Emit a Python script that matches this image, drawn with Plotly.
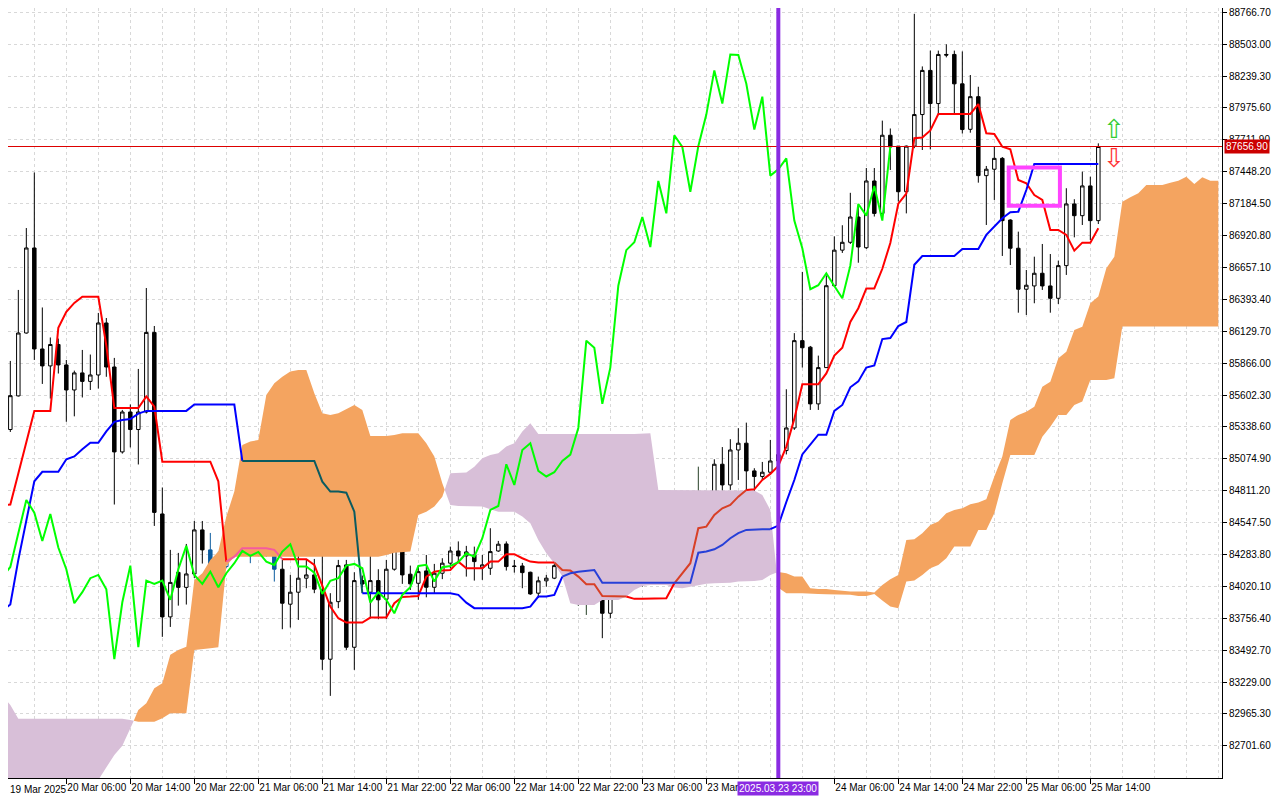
import plotly.graph_objects as go

# BTCUSD H1, bar 0 = 19 Mar 2025 22:00, one bar per hour
opens = [85381, 85317, 85595, 86115, 86818, 85983, 85843, 86020, 85851, 85644,
         85785, 85715, 85768, 86198, 85834, 85132, 85462, 85317, 85462, 86120,
         84619, 83768, 84136, 84012, 84123, 84487, 84322, 84099, 84184, 84459,
         84735, 84638, 84404, 84619, 84440, 84162, 83873, 83972, 84088, 84115,
         83991, 83418, 83894, 84198, 83517, 84068, 83972, 84068, 83914, 84162,
         84355, 84121, 84046, 84148, 84013, 84129, 84212, 84313, 84272, 84280,
         84173, 84170, 84313, 84371, 84189, 84189, 84137, 83964, 84066, 84088,
         84198, 84206, 84134, 83886, 83972, 83909, 83798, 83956, 84013, 84194,
         84189, 84051, 84181, 84184, 84220, 84294, 84266, 84418, 84652, 84685,
         85030, 84859, 85148, 85204, 84975, 84929, 84964, 85057, 85143, 85330,
         86052, 85998, 85529, 85829, 86506, 86800, 86865, 87074, 86820, 87372,
         87104, 87750, 87660, 87283, 87660, 87921, 88286, 88012, 88418, 88418,
         88175, 87799, 88069, 87416, 87469, 87559, 87049, 86816, 86477, 86504,
         86609, 86504, 86402, 86672, 87182, 87085, 87331, 87044]
highs = [85450, 85884, 86471, 86983, 87442, 86326, 86078, 86069, 85892, 85804,
         85975, 85937, 86281, 86239, 85909, 85479, 85524, 85818, 86487, 86173,
         84838, 84322, 84297, 84371, 84561, 84561, 84462, 84308, 84510, 84751,
         84804, 84688, 84762, 84630, 84454, 84239, 84115, 84308, 84239, 84247,
         84322, 83964, 84239, 84239, 84137, 84110, 84390, 84162, 84239, 84542,
         84377, 84192, 84183, 84280, 84206, 84253, 84349, 84392, 84355, 84349,
         84280, 84501, 84396, 84392, 84239, 84214, 84142, 84101, 84115, 84206,
         84280, 84225, 84156, 84005, 83977, 83914, 84005, 84074, 84239, 84204,
         84195, 84198, 84245, 84247, 84322, 84308, 84465, 85010, 84782, 85071,
         85172, 85237, 85328, 85374, 84997, 85049, 85231, 85200, 85650, 86114,
         86620, 86008, 85928, 86591, 86914, 87006, 87274, 87169, 87479, 87479,
         87871, 87806, 87661, 87665, 88754, 88319, 88450, 88450, 88502, 88450,
         88443, 88248, 88151, 87496, 87655, 87570, 87055, 86953, 86636, 86746,
         86851, 86768, 86713, 87312, 87221, 87449, 87407, 87683]
lows = [85290, 85297, 85590, 86110, 85892, 85694, 85573, 85780, 85381, 85426,
        85582, 85644, 85656, 85753, 84697, 85118, 85169, 85028, 85450, 84520,
        83603, 83685, 83861, 83870, 84090, 84209, 83933, 83867, 84173, 84338,
        84465, 84212, 84349, 84266, 84060, 83666, 83680, 83743, 84005, 83964,
        83330, 83115, 83840, 83495, 83330, 84010, 83757, 83749, 83749, 84150,
        84041, 83991, 83909, 83930, 83964, 84080, 84170, 84212, 84101, 84068,
        84074, 84115, 84305, 84151, 84134, 84005, 83950, 83925, 84018, 84080,
        84156, 84115, 83859, 83784, 83895, 83592, 83757, 83922, 83977, 84051,
        84018, 84045, 84142, 84165, 84206, 84264, 84264, 84404, 84597, 84505,
        84812, 84818, 84900, 84818, 84749, 84900, 84942, 84980, 85111, 85314,
        85829, 85479, 85479, 85826, 86499, 86777, 86851, 86696, 86810, 87078,
        87091, 87463, 87202, 87104, 87643, 87628, 87633, 87921, 88394, 87921,
        87764, 87771, 87358, 87008, 87215, 86752, 86677, 86283, 86264, 86361,
        86471, 86283, 86355, 86595, 86906, 87008, 86884, 87016]
closes = [85317, 85597, 86115, 86818, 85983, 85843, 86020, 85851, 85644, 85785,
          85715, 85768, 86198, 85834, 85132, 85462, 85317, 85462, 86120, 84632,
          83768, 84053, 84012, 84123, 84487, 84322, 84099, 84181, 84459, 84735,
          84630, 84396, 84619, 84341, 84162, 83881, 83972, 84088, 84115, 83997,
          83418, 83889, 84192, 83517, 84068, 84040, 84068, 83909, 84162, 84355,
          84115, 84041, 84142, 84013, 84129, 84212, 84313, 84272, 84305, 84225,
          84198, 84308, 84369, 84184, 84185, 84134, 83958, 84066, 84088, 84192,
          84206, 84170, 83886, 83972, 83909, 83798, 83950, 84013, 84189, 84198,
          84060, 84179, 84189, 84220, 84294, 84266, 84418, 84652, 84685, 85030,
          84859, 85148, 85204, 84975, 84929, 84964, 85057, 85110, 85330, 86052,
          85993, 85529, 85829, 86506, 86800, 86865, 87074, 86826, 87372, 87104,
          87750, 87653, 87283, 87660, 87921, 88286, 88012, 88418, 88413, 88175,
          87797, 88069, 87416, 87469, 87559, 87044, 86816, 86477, 86510, 86609,
          86504, 86402, 86672, 87182, 87085, 87331, 87044, 87656.9]

# Ichimoku lines as drawn on the chart
tenkan = [84688, 84697, 84953, 85214, 85471, 85471, 85471, 86158, 86291, 86364,
          86415, 86415, 86415, 86010, 85494, 85494, 85494, 85494, 85591, 85506,
          85051, 85051, 85051, 85051, 85051, 85051, 85051, 84889, 84225, 84266,
          84336, 84336, 84336, 84336, 84322, 84245, 84245, 84245, 84245, 84198,
          84018, 83853, 83757, 83721, 83721, 83721, 83762, 83762, 83762, 83881,
          83933, 83936, 83941, 84101, 84142, 84151, 84156, 84225, 84170, 84170,
          84170, 84225, 84225, 84286, 84286, 84253, 84225, 84217, 84217, 84217,
          84156, 84151, 84101, 84038, 84038, 83941, 83941, 83941, 83936, 83917,
          83917, 83917, 83917, 83922, 84046, 84129, 84212, 84501, 84514, 84611,
          84666, 84694, 84762, 84818, 84823, 84900, 84950, 85016, 85176, 85405,
          85692, 85692, 85692, 85781, 85928, 85993, 86206, 86320, 86483, 86483,
          86646, 86859, 87185, 87267, 87725, 87731, 87790, 87926, 87926, 87926,
          87926, 87926, 88008, 87766, 87760, 87655, 87634, 87380, 87353, 87256,
          87215, 86967, 86967, 86926, 86796, 86862, 86862, 86981]
kijun = [83820, 83870, 84239, 84564, 84889, 84968, 84968, 84968, 85071, 85095,
         85154, 85207, 85207, 85302, 85381, 85396, 85404, 85449, 85471, 85471,
         85471, 85471, 85471, 85471, 85524, 85524, 85524, 85524, 85524, 85524,
         85057, 85057, 85057, 85057, 85057, 85057, 85057, 85057, 85057, 85057,
         84886, 84804, 84804, 84795, 84638, 83964, 83964, 83964, 83964, 83964,
         83964, 83964, 83964, 83964, 83964, 83964, 83964, 83950, 83886, 83840,
         83840, 83840, 83840, 83840, 83840, 83840, 83853, 83936, 83936, 83950,
         84101, 84129, 84142, 84151, 84156, 84051, 84051, 84051, 84051, 84051,
         84051, 84051, 84051, 84051, 84051, 84051, 84051, 84299, 84308, 84327,
         84363, 84418, 84460, 84487, 84493, 84493, 84493, 84523, 84718, 84900,
         85111, 85192, 85274, 85274, 85471, 85520, 85666, 85715, 85829, 85846,
         86065, 86074, 86173, 86206, 86679, 86752, 86752, 86752, 86752, 86752,
         86810, 86810, 86810, 86926, 86994, 87064, 87113, 87118, 87297, 87512,
         87512, 87512, 87512, 87512, 87512, 87512, 87512, 87512]
# cloud, already shifted 26 bars ahead (runs past the last candle)
span_a = [82255, 82272, 82288, 82305, 82321, 82338, 82338, 82338, 82346, 82354,
          82371, 82387, 82420, 82520, 82627, 82702, 82842, 82999, 83055, 83178,
          83220, 83454, 83495, 83522, 84074, 84129, 84239, 84308, 84597, 84804,
          85190, 85217, 85231, 85603, 85700, 85754, 85796, 85810, 85810, 85617,
          85452, 85438, 85452, 85485, 85520, 85479, 85264, 85264, 85264, 85272,
          85286, 85286, 85286, 85204, 85093, 84873, 84694, 84685, 84685, 84685,
          84680, 84658, 84638, 84638, 84638, 84597, 84542, 84404, 84294, 84212,
          84101, 83881, 83867, 83867, 83867, 83908, 83908, 83908, 83936, 83991,
          84024, 84032, 84032, 84032, 84010, 84005, 84018, 84032, 84041, 84046,
          84046, 84051, 84060, 84060, 84065, 84074, 84115, 84140, 84129, 84101,
          84101, 84005, 83999, 83999, 83991, 83983, 83977, 83977, 83977, 83969,
          84032, 84080, 84115, 84404, 84410, 84460, 84528, 84556, 84625, 84652,
          84666, 84699, 84713, 84741, 84928, 85093, 85396, 85438, 85465, 85506,
          85671, 85713, 85906, 85961, 86140, 86167, 86361, 86416, 86650, 86746,
          87201, 87237, 87270, 87339, 87339, 87339, 87358, 87374, 87407, 87347,
          87402, 87374, 87374]
span_b = [83117, 83040, 82925, 82925, 82925, 82925, 82925, 82925, 82925, 82925,
          82925, 82925, 82925, 82925, 82925, 82925, 82916, 82902, 82902, 82902,
          82930, 82972, 82972, 82972, 83495, 83501, 83509, 83517, 84188, 84266,
          84266, 84266, 84266, 84266, 84266, 84266, 84266, 84266, 84266, 84266,
          84266, 84266, 84266, 84266, 84266, 84266, 84266, 84266, 84280, 84299,
          84305, 84308, 84611, 84638, 84680, 84762, 84956, 84961, 84961, 85010,
          85080, 85107, 85121, 85176, 85204, 85300, 85369, 85281, 85281, 85281,
          85281, 85281, 85281, 85281, 85281, 85281, 85281, 85281, 85281, 85281,
          85281, 85286, 84818, 84812, 84812, 84812, 84812, 84812, 84812, 84812,
          84812, 84812, 84812, 84812, 84812, 84776, 84652, 84008, 83964, 83964,
          83964, 83964, 83958, 83955, 83950, 83950, 83950, 83941, 83941, 83958,
          83903, 83853, 83840, 84060, 84068, 84115, 84170, 84198, 84253, 84349,
          84349, 84349, 84487, 84487, 84625, 84873, 85107, 85107, 85107, 85107,
          85258, 85341, 85438, 85438, 85520, 85548, 85727, 85727, 85727, 85741,
          86168, 86168, 86168, 86168, 86168, 86168, 86168, 86168, 86168, 86168,
          86168, 86168, 86168]

label_bars = [0, 8, 16, 24, 32, 40, 48, 56, 64, 72, 80, 88, 96, 104, 112, 120, 128, 136]
time_labels = ["19 Mar 2025", "20 Mar 06:00", "20 Mar 14:00", "20 Mar 22:00",
               "21 Mar 06:00", "21 Mar 14:00", "21 Mar 22:00", "22 Mar 06:00",
               "22 Mar 14:00", "22 Mar 22:00", "23 Mar 06:00", "23 Mar 14:00",
               "23 Mar 22:00", "24 Mar 06:00", "24 Mar 14:00", "24 Mar 22:00",
               "25 Mar 06:00", "25 Mar 14:00"]
price_ticks = [82701.60, 82965.30, 83229.00, 83492.70, 83756.40, 84020.10,
               84283.80, 84547.50, 84811.20, 85074.90, 85338.60, 85602.30,
               85866.00, 86129.70, 86393.40, 86657.10, 86920.80, 87184.50,
               87448.20, 87711.90, 87975.60, 88239.30, 88503.00, 88766.70]

cursor_bar = 97
cursor_label = "2025.03.23 23:00"
box_bars = [125.8, 132.2]
box_prices = [87168, 87483]
arrow_bar = 139
arrow_prices = [87802, 87562]

FONT = "Liberation Sans"
GRID = "#D8D8D8"
ORANGE = "#F4A460"
THISTLE = "#D8BFD8"
# MT paints the cloud in xor mode, so anything drawn under it changes colour
XOR = {
    "orange": {"black": "#0B5B9F", "red": "#F45B9F", "blue": "#0B5B60"},
    "purple": {"black": "#274027", "red": "#D84027", "blue": "#2740D8"},
}

n = len(closes)
x_start = 0.71  # the page puts the figure 8px in, so bar 0 sits just off the left edge


def zone(a, b, v):
    if min(a, b) <= v <= max(a, b):
        return "orange" if a >= b else "purple"
    return None


fig = go.Figure()

# cloud, split where span A and span B cross
x_cloud = list(range(len(span_a)))
runs = []
px, pa, pb = [x_cloud[0]], [span_a[0]], [span_b[0]]
up = span_a[0] >= span_b[0]
for i in range(1, len(x_cloud)):
    now = span_a[i] >= span_b[i]
    if now != up:
        d0 = span_a[i - 1] - span_b[i - 1]
        d1 = span_a[i] - span_b[i]
        t = d0 / (d0 - d1)
        xc = x_cloud[i - 1] + t
        yc = span_a[i - 1] + t * (span_a[i] - span_a[i - 1])
        px.append(xc); pa.append(yc); pb.append(yc)
        runs.append((up, px, pa, pb))
        px, pa, pb = [xc], [yc], [yc]
        up = now
    px.append(x_cloud[i]); pa.append(span_a[i]); pb.append(span_b[i])
runs.append((up, px, pa, pb))

for bull, rx, ra, rb in runs:
    col = ORANGE if bull else THISTLE
    fig.add_trace(go.Scatter(x=rx + rx[::-1], y=ra + rb[::-1], fill="toself",
                             fillcolor=col, mode="lines", line=dict(width=0, color=col),
                             hoverinfo="skip", showlegend=False))

# candles, grouped by where their body sits
groups = {None: [], "orange": [], "purple": []}
for i in range(n):
    groups[zone(span_a[i], span_b[i], (opens[i] + closes[i]) / 2)].append(i)

for z, idx in groups.items():
    if not idx:
        continue
    c = "black" if z is None else XOR[z]["black"]
    fig.add_trace(go.Candlestick(
        x=idx,
        open=[opens[i] for i in idx],
        high=[highs[i] for i in idx],
        low=[lows[i] for i in idx],
        close=[closes[i] for i in idx],
        increasing=dict(line=dict(color=c, width=1),
                        fillcolor="white" if z is None else "rgba(0,0,0,0)"),
        decreasing=dict(line=dict(color=c, width=1), fillcolor=c),
        whiskerwidth=0, hoverinfo="skip", showlegend=False))


def add_line(values, base, key, width=2):
    seg = []
    for i in range(len(values) - 1):
        z = zone((span_a[i] + span_a[i + 1]) / 2, (span_b[i] + span_b[i + 1]) / 2,
                 (values[i] + values[i + 1]) / 2)
        seg.append(base if z is None else XOR[z][key])
    start = 0
    for i in range(1, len(seg) + 1):
        if i == len(seg) or seg[i] != seg[start]:
            fig.add_trace(go.Scatter(x=list(range(start, i + 1)), y=values[start:i + 1],
                                     mode="lines", line=dict(color=seg[start], width=width),
                                     hoverinfo="skip", showlegend=False))
            start = i


add_line(tenkan, "#FF0000", "red")
add_line(kijun, "#0000FF", "blue")

# chikou span = close shifted back 26 bars
fig.add_trace(go.Scatter(x=list(range(n - 26)), y=closes[26:], mode="lines",
                         line=dict(color="#00FF00", width=2),
                         hoverinfo="skip", showlegend=False))

fig.add_shape(type="line", xref="paper", x0=0, x1=1, y0=closes[-1], y1=closes[-1],
              line=dict(color="#DD0000", width=1))
fig.add_shape(type="line", x0=cursor_bar, x1=cursor_bar, yref="paper", y0=0, y1=1,
              line=dict(color="#8A2BE2", width=4))
fig.add_shape(type="rect", x0=box_bars[0], x1=box_bars[1], y0=box_prices[0], y1=box_prices[1],
              line=dict(color="#FF44FF", width=4))

fig.add_annotation(x=arrow_bar, y=arrow_prices[0], text="\u21e7", showarrow=False,
                   font=dict(family="DejaVu Sans", size=26, color="#33CC33"))
fig.add_annotation(x=arrow_bar, y=arrow_prices[1], text="\u21e9", showarrow=False,
                   font=dict(family="DejaVu Sans", size=26, color="#FF3333"))

fig.add_annotation(xref="paper", x=1, xanchor="left", xshift=2, y=closes[-1], yanchor="middle",
                   text="%.2f" % closes[-1], showarrow=False, bgcolor="#CC0000", borderpad=1,
                   font=dict(family=FONT, size=10, color="white"))
fig.add_annotation(x=cursor_bar, yref="paper", y=0, yanchor="top", yshift=-3,
                   text=cursor_label, showarrow=False, bgcolor="#8A2BE2", borderpad=1,
                   font=dict(family=FONT, size=10, color="white"))

# MT hides the time label that sits under the cursor label; the first one
# falls left of the axis range, so it goes in as a note at the left edge
shown = [(b, t) for b, t in zip(label_bars, time_labels)
         if abs(b - cursor_bar) > 4 and b >= x_start]
for b, t in zip(label_bars, time_labels):
    if b < x_start:
        fig.add_annotation(xref="paper", x=0, xanchor="left", yref="paper", y=0,
                           yanchor="top", yshift=-4, text=t, showarrow=False,
                           font=dict(family=FONT, size=10, color="black"))
minor_bars = [b for b in range(4, 153, 4) if b not in [s[0] for s in shown]]

fig.update_xaxes(range=[x_start, 152.46], tickmode="array",
                 tickvals=[s[0] for s in shown], ticktext=[s[1] for s in shown],
                 ticks="outside", ticklen=5, tickcolor="black", tickangle=0,
                 ticklabelposition="outside right", ticklabeloverflow="allow",
                 showgrid=True, gridcolor=GRID, griddash="3px,3px", gridwidth=1,
                 minor=dict(tickvals=minor_bars, showgrid=True, gridcolor=GRID,
                            griddash="3px,3px", ticks=""),
                 showline=True, linecolor="black", linewidth=1, mirror=True,
                 zeroline=False, rangeslider=dict(visible=False), automargin=False)
fig.update_yaxes(side="right", range=[82436, 88802], tickmode="array", tickvals=price_ticks,
                 tickformat=".2f", ticks="outside", ticklen=4, tickcolor="black",
                 ticklabeloverflow="allow",
                 showgrid=True, gridcolor=GRID, griddash="3px,3px", gridwidth=1,
                 showline=True, linecolor="black", linewidth=1, mirror=True,
                 zeroline=False, automargin=False)
fig.update_layout(width=1272, height=792, margin=dict(l=0, r=58, t=0, b=22),
                  plot_bgcolor="white", paper_bgcolor="white", showlegend=False,
                  boxgap=0.38, hovermode=False,
                  font=dict(family=FONT, size=10, color="black"))

fig.write_html("out.html")
